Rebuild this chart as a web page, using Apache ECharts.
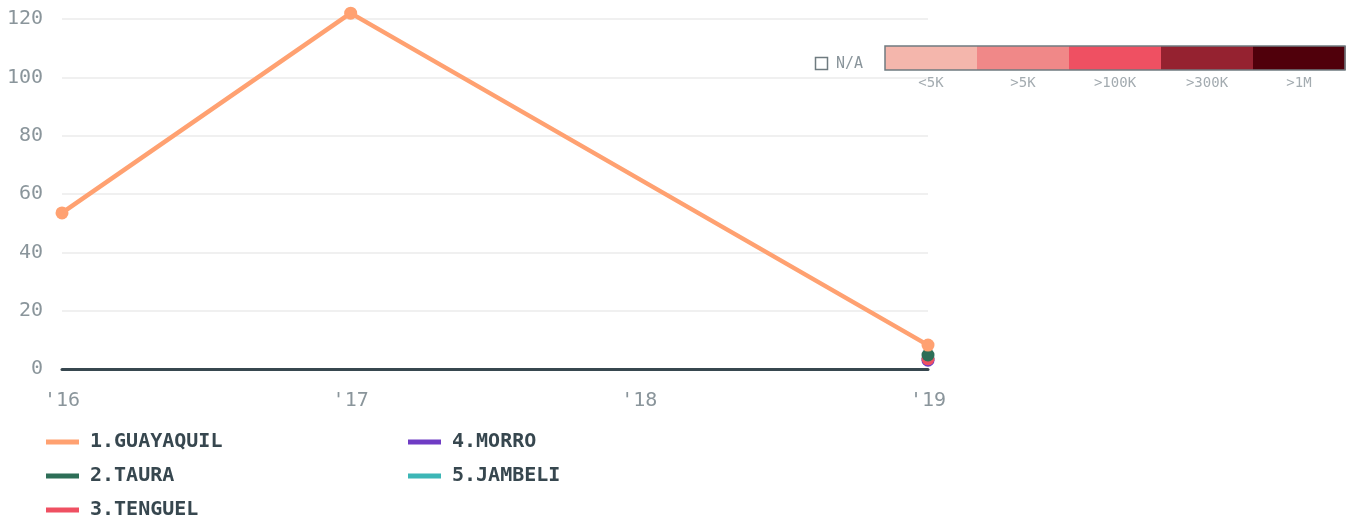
<!DOCTYPE html>
<html>
<head>
<meta charset="utf-8">
<script src="https://cdn.jsdelivr.net/npm/echarts@6/dist/echarts.min.js"></script>
<style>
html,body{margin:0;padding:0;background:#fff;}
#chart{width:1353px;height:521px;}
</style>
</head>
<body>
<div id="chart"></div>
<script>
const years = ["'16", "'17", "'18", "'19"];
const seriesNames = ['1.GUAYAQUIL', '2.TAURA', '3.TENGUEL', '4.MORRO', '5.JAMBELI'];
const seriesColors = ['#ffa171', '#2d6e57', '#ef5062', '#6f3cc4', '#3cb6b6'];
const guayaquil = [53.5, 122, null, 8.2];
const taura = [null, null, null, 4.8];
const tenguel = [null, null, null, 3.5];
const morro = [null, null, null, 3.0];
const jambeli = [null, null, null, 3.6];
const seriesValues = [guayaquil, taura, tenguel, morro, jambeli];
const yTicks = [0, 20, 40, 60, 80, 100, 120];
const scaleLabels = ['<5K', '>5K', '>100K', '>300K', '>1M'];
const scaleColors = ['#f4b6ac', '#f08888', '#ef5062', '#952230', '#50000b'];
const naLabel = 'N/A';

const FONT = 'DejaVu Sans Mono';
const chart = echarts.init(document.getElementById('chart'));

const barX = 885, barY = 46, barW = 460, barH = 24;
const segW = barW / scaleColors.length;
const graphics = [];
scaleColors.forEach((c, i) => {
  graphics.push({type: 'rect', left: barX + i * segW, top: barY,
    shape: {width: segW + 0.5, height: barH}, style: {fill: c}, silent: true});
  graphics.push({type: 'text', x: barX + (i + 0.5) * segW, y: barY + barH + 13,
    style: {text: scaleLabels[i], fill: '#a3abb0', font: '14px "' + FONT + '"', textAlign: 'center', textVerticalAlign: 'middle'}});
});
graphics.push({type: 'rect', shape: {x: barX, y: barY, width: barW, height: barH},
  style: {fill: 'none', stroke: '#6f7b80', lineWidth: 1.5}, silent: true});
graphics.push({type: 'rect', shape: {x: 815.5, y: 57.5, width: 12, height: 12},
  style: {fill: 'none', stroke: '#6f7b80', lineWidth: 1.5}, silent: true});
graphics.push({type: 'text', x: 836, y: 64,
  style: {text: naLabel, fill: '#8a959b', font: '15px "' + FONT + '"', textAlign: 'left', textVerticalAlign: 'middle'}});

const legendText = {color: '#37474f', fontFamily: FONT, fontWeight: 'bold', fontSize: 20, lineHeight: 20, padding: [0, 0, 0, 6]};

chart.setOption({
  animation: false,
  grid: {left: 62, right: 425, top: 19, bottom: 152},
  xAxis: {
    type: 'category', data: years, boundaryGap: false,
    axisLine: {lineStyle: {color: '#37474f', width: 3}},
    axisTick: {show: false},
    axisLabel: {color: '#8a959b', fontFamily: FONT, fontSize: 20, margin: 22},
    splitLine: {show: false}
  },
  yAxis: {
    type: 'value', min: yTicks[0], max: yTicks[yTicks.length - 1], interval: yTicks[1] - yTicks[0],
    axisLine: {show: false}, axisTick: {show: false},
    axisLabel: {color: '#8a959b', fontFamily: FONT, fontSize: 20, margin: 19},
    splitLine: {lineStyle: {color: '#ebebeb', width: 1.5}}
  },
  legend: [
    {data: seriesNames.slice(0, 3), orient: 'vertical', left: 46, top: 432, padding: 0, itemGap: 14,
     icon: 'rect', itemWidth: 33, itemHeight: 5, textStyle: legendText, selectedMode: false},
    {data: seriesNames.slice(3), orient: 'vertical', left: 408, top: 432, padding: 0, itemGap: 14,
     icon: 'rect', itemWidth: 33, itemHeight: 5, textStyle: legendText, selectedMode: false}
  ],
  graphic: graphics,
  series: seriesNames.map((name, i) => ({
    name: name, type: 'line', data: seriesValues[i], connectNulls: true, clip: false,
    symbol: 'circle', symbolSize: 13, showSymbol: true,
    lineStyle: {color: seriesColors[i], width: 4.5},
    itemStyle: {color: seriesColors[i]},
    z: 10 - i
  }))
});
</script>
</body>
</html>
